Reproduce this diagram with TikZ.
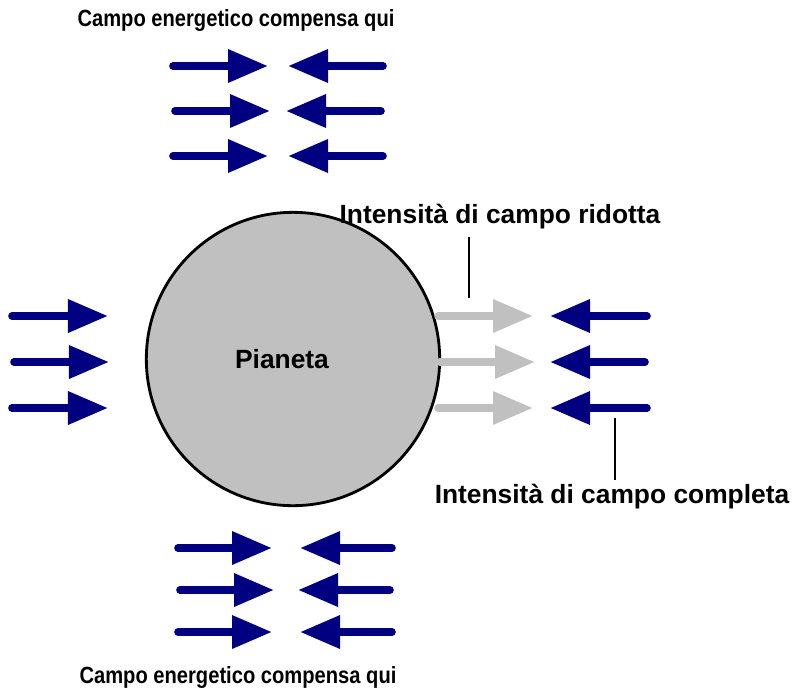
\documentclass[tikz,border=0pt]{standalone}
\usepackage{fontspec}
\setmainfont{Liberation Sans}
\usetikzlibrary{arrows.meta}
\definecolor{campoblu}{RGB}{0,0,128}
\definecolor{campogrigio}{RGB}{192,192,192}
\newcommand{\stretta}[1]{\scalebox{0.86}[1]{#1}}

\begin{document}
\begin{tikzpicture}[x=0.03cm,y=-0.03cm,
	freccia/.style={line width=6.5pt,line cap=round,campoblu,-{Triangle[length=1.2cm,width=0.95cm]}},
	ridotta/.style={freccia,campogrigio},
	scritta/.style={font=\bfseries\fontsize{20}{24}\selectfont,inner sep=0pt},
	grande/.style={font=\bfseries\fontsize{22.5}{26}\selectfont,inner sep=0pt}]
\useasboundingbox (0,0) rectangle (796,695);
% pianeta
\node[circle,draw,line width=2.4pt,fill=campogrigio,minimum size=8.8cm] (P) at (293,359) {};
\node[grande] (Pn) at (282,359) {Pianeta};
% sopra
\node[scritta] (T) at (236,20) {\stretta{Campo energetico compensa qui}};
\begin{scope}[shift={(0,66)}]
	\coordinate (A) at (173,0);
	\coordinate (AB) at (268,0);
	\coordinate (B) at (383,0);
	\coordinate (BB) at (288,0);
	\draw[freccia] (A)--(AB);
	\draw[freccia] (B)--(BB);
\end{scope}
\begin{scope}[shift={(0,111)}]
	\coordinate (A) at (175,0);
	\coordinate (AB) at (270,0);
	\coordinate (B) at (381,0);
	\coordinate (BB) at (286,0);
	\draw[freccia] (A)--(AB);
	\draw[freccia] (B)--(BB);
\end{scope}
\begin{scope}[shift={(0,156)}]
	\coordinate (A) at (173,0);
	\coordinate (AB) at (268,0);
	\coordinate (B) at (383,0);
	\coordinate (BB) at (288,0);
	\draw[freccia] (A)--(AB);
	\draw[freccia] (B)--(BB);
\end{scope}
% sinistra
\begin{scope}[shift={(0,316)}]
	\coordinate (A) at (12,0);
	\coordinate (AB) at (108,0);
	\draw[freccia] (A)--(AB);
\end{scope}
\begin{scope}[shift={(0,362)}]
	\coordinate (A) at (14,0);
	\coordinate (AB) at (109,0);
	\draw[freccia] (A)--(AB);
\end{scope}
\begin{scope}[shift={(0,408)}]
	\coordinate (A) at (12,0);
	\coordinate (AB) at (108,0);
	\draw[freccia] (A)--(AB);
\end{scope}
% destra
\begin{scope}[shift={(0,316)}]
	\coordinate (A) at (438,0);
	\coordinate (AB) at (533,0);
	\coordinate (B) at (647,0);
	\coordinate (BB) at (550,0);
	\draw[ridotta] (A)--(AB);
	\draw[freccia] (B)--(BB);
\end{scope}
\begin{scope}[shift={(0,362)}]
	\coordinate (A) at (440,0);
	\coordinate (AB) at (535,0);
	\coordinate (B) at (645,0);
	\coordinate (BB) at (550,0);
	\draw[ridotta] (A)--(AB);
	\draw[freccia] (B)--(BB);
\end{scope}
\begin{scope}[shift={(0,408)}]
	\coordinate (A) at (438,0);
	\coordinate (AB) at (533,0);
	\coordinate (B) at (647,0);
	\coordinate (BB) at (550,0);
	\draw[ridotta] (A)--(AB);
	\draw[freccia] (B)--(BB);
\end{scope}
\node[grande] (R) at (500,217) {Intensità di campo ridotta};
\coordinate (RA) at (469,237);
\coordinate (RB) at (469,298);
\draw[line width=2.2pt] (RA)--(RB);
\node[grande] (C) at (612,497) {Intensità di campo completa};
\coordinate (CA) at (615,418);
\coordinate (CB) at (615,480);
\draw[line width=2.2pt] (CA)--(CB);
% sotto
\begin{scope}[shift={(0,548)}]
	\coordinate (A) at (178,0);
	\coordinate (AB) at (272,0);
	\coordinate (B) at (392,0);
	\coordinate (BB) at (300,0);
	\draw[freccia] (A)--(AB);
	\draw[freccia] (B)--(BB);
\end{scope}
\begin{scope}[shift={(0,590)}]
	\coordinate (A) at (180,0);
	\coordinate (AB) at (274,0);
	\coordinate (B) at (390,0);
	\coordinate (BB) at (298,0);
	\draw[freccia] (A)--(AB);
	\draw[freccia] (B)--(BB);
\end{scope}
\begin{scope}[shift={(0,632)}]
	\coordinate (A) at (178,0);
	\coordinate (AB) at (272,0);
	\coordinate (B) at (392,0);
	\coordinate (BB) at (300,0);
	\draw[freccia] (A)--(AB);
	\draw[freccia] (B)--(BB);
\end{scope}
\node[scritta] (S) at (238,677) {\stretta{Campo energetico compensa qui}};
\end{tikzpicture}
\end{document}
